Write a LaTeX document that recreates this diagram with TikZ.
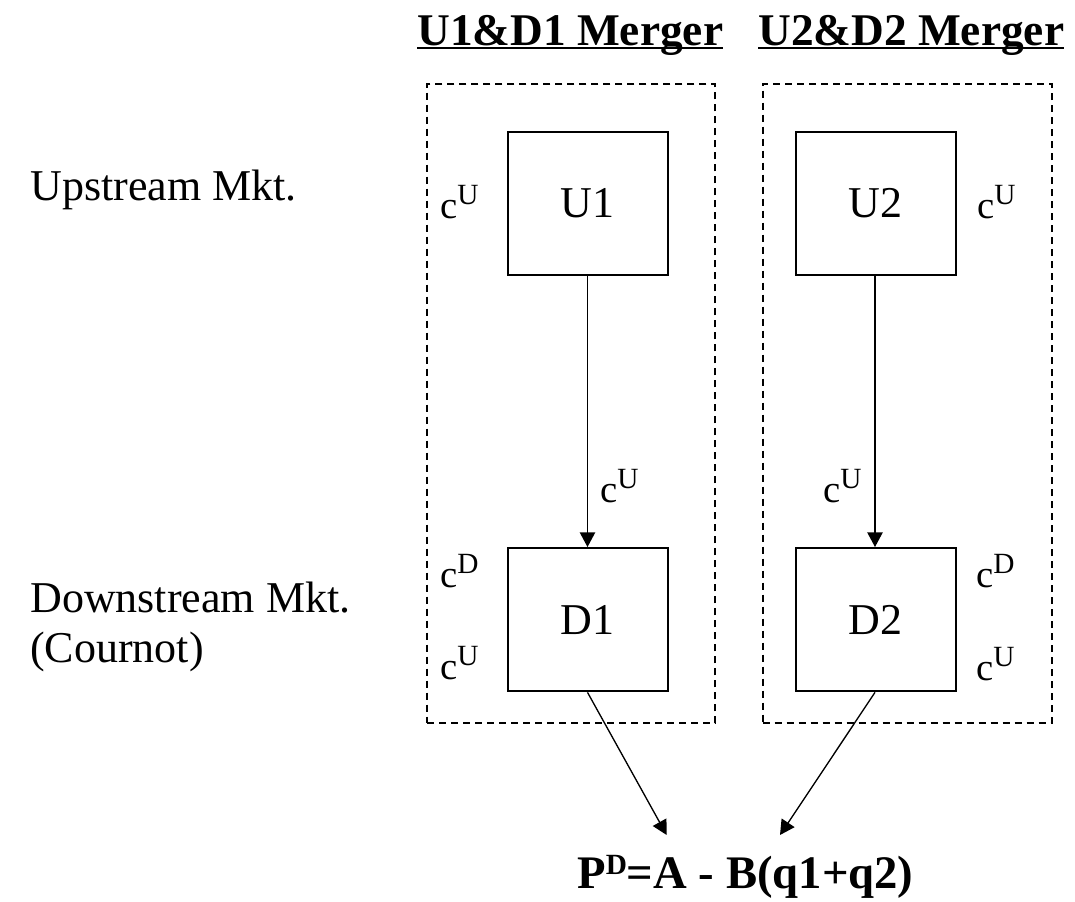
\documentclass[tikz,border=0pt]{standalone}
\usepackage{fontspec}
\setmainfont{Liberation Serif}
\usetikzlibrary{arrows.meta}
\newcommand{\costsup}[1]{\raisebox{10.5pt}{\fontsize{22}{22}\selectfont #1}}
\begin{document}
\begin{tikzpicture}[x=0.75pt,y=-0.75pt,
  firm/.style={draw,line width=1.5pt,minimum width=120pt,minimum height=107.5pt,inner sep=0pt,font=\fontsize{33}{38}\selectfont},
  group/.style={draw,dashed,line width=1.3pt,dash pattern=on 5.2pt off 3.8pt,inner sep=0pt},
  cost/.style={inner sep=0pt,anchor=base west,font=\fontsize{29}{32}\selectfont},
  head/.style={inner sep=0pt,anchor=base west,font=\fontsize{34}{40}\selectfont\bfseries},
  mkt/.style={inner sep=0pt,anchor=base west,align=left,font=\fontsize{33}{37.5}\selectfont},
  flow/.style={line width=1pt,-{Triangle[length=11pt,width=11.5pt]}}]
\useasboundingbox (0,0) rectangle (1075,901);
% merger groups
\node[group,minimum width=216pt,minimum height=479.5pt] (g1) at (571,403.6) {};
\node[group,minimum width=216.7pt,minimum height=479.5pt] (g2) at (907.2,403.6) {};
% headings
\node[head] (h1) at (417,45) {U1\&D1 Merger};
\node[head] (h2) at (758,45) {U2\&D2 Merger};
\draw[line width=1.6pt] ([yshift=-2.5pt]h1.base west) -- ([yshift=-2.5pt]h1.base east);
\draw[line width=1.6pt] ([yshift=-2.5pt]h2.base west) -- ([yshift=-2.5pt]h2.base east);
% market labels
\node[mkt] (up) at (30,200) {Upstream Mkt.};
\node[mkt] (down) at (30,662) {Downstream Mkt.\\(Cournot)};
% firms
\node[firm] (U1) at (587.5,203.4) {U1};
\node[firm] (U2) at (875.7,203.4) {U2};
\node[firm] (D1) at (587.5,619.7) {D1};
\node[firm] (D2) at (875.7,619.7) {D2};
% cost labels
\node[cost] (cu1) at (440,218) {c\costsup{U}};
\node[cost] (cu2) at (977,218) {c\costsup{U}};
\node[cost] (ca1) at (600,502) {c\costsup{U}};
\node[cost] (ca2) at (823,502) {c\costsup{U}};
\node[cost] (cd1) at (440,587) {c\costsup{D}};
\node[cost] (cd2) at (976,587) {c\costsup{D}};
\node[cost] (cdu1) at (440,679) {c\costsup{U}};
\node[cost] (cdu2) at (976,680) {c\costsup{U}};
% price
\node[inner sep=0pt,anchor=base west,font=\fontsize{35}{40}\selectfont\bfseries] (P) at (577,888) {P\raisebox{10pt}{\fontsize{22}{22}\selectfont D}=A - B(q1+q2)};
\coordinate (t1) at (666.7,835);
\coordinate (t2) at (780,835);
% connectors
\draw[flow] (U1.south) -- (D1.north);
\draw[flow] (U2.south -| 875,0) -- (D2.north -| 875,0);
\draw[flow] (D1.south) -- (t1);
\draw[flow] (D2.south -| 875,0) -- (t2);
\end{tikzpicture}
\end{document}
